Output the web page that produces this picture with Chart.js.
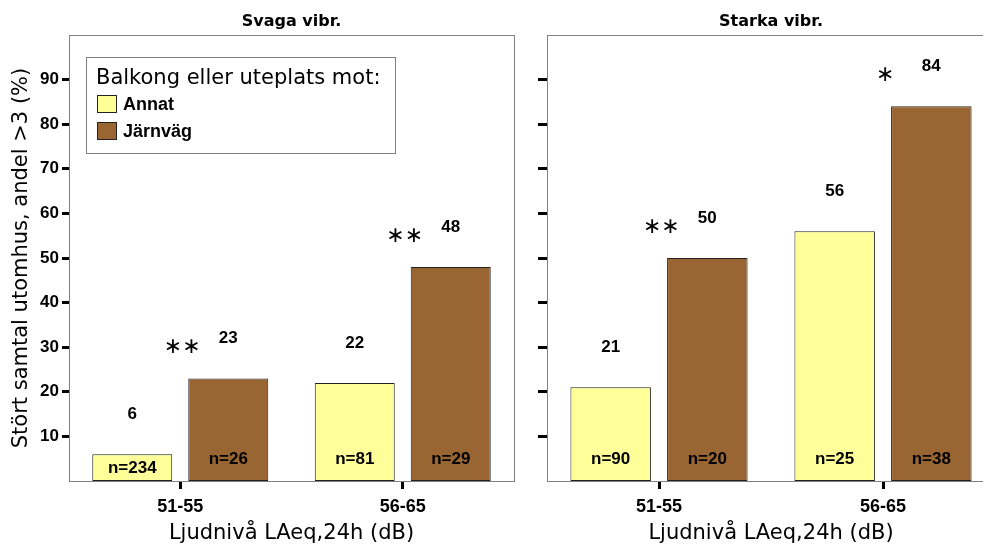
<!DOCTYPE html>
<html lang="sv">
<head>
<meta charset="utf-8">
<title>Stört samtal utomhus</title>
<script src="https://cdn.jsdelivr.net/npm/chart.js@4"></script>
<style>
  html, body { margin: 0; padding: 0; background: #fff; overflow: hidden; }
  body { width: 983px; height: 547px; position: relative; }
  canvas { position: absolute; top: 0; }
  #svagaChart { left: 0; }
  #starkaChart { left: 520px; }
</style>
</head>
<body>
<canvas id="svagaChart" width="520" height="547"></canvas>
<canvas id="starkaChart" width="490" height="547"></canvas>
<script>
const kategorier = ['51-55', '56-65'];
const serier = ['Annat', 'Järnväg'];
const farger = ['#FFFF99', '#996633'];

// Svaga vibrationer
const svagaAnnat = [6, 22];
const svagaJarnvag = [23, 48];
const svagaNAnnat = [234, 81];
const svagaNJarnvag = [26, 29];
const svagaSignif = ['**', '**'];

// Starka vibrationer
const starkaAnnat = [21, 56];
const starkaJarnvag = [50, 84];
const starkaNAnnat = [90, 25];
const starkaNJarnvag = [20, 38];
const starkaSignif = ['**', '*'];

const sans = "'Liberation Sans', Arial, sans-serif";
const bred = "'DejaVu Sans', Verdana, sans-serif";

// Ram runt hela ritytan
const ram = {
    id: 'ram',
    afterDraw(chart) {
        const { ctx, chartArea: a } = chart;
        ctx.save();
        ctx.strokeStyle = '#808080';
        ctx.lineWidth = 1;
        ctx.strokeRect(Math.round(a.left) + 0.5, Math.round(a.top) + 0.5,
            Math.round(a.right - a.left), Math.round(a.bottom - a.top));
        ctx.restore();
    }
};

// Värden ovanför staplarna, n inne i staplarna och signifikansstjärnor
const etiketter = {
    id: 'etiketter',
    afterDatasetsDraw(chart, args, opts) {
        const ctx = chart.ctx;
        const bas = chart.scales.y.getPixelForValue(0);
        ctx.save();
        ctx.textAlign = 'center';
        ctx.textBaseline = 'middle';
        ctx.fillStyle = '#000';
        chart.data.datasets.forEach((ds, i) => {
            chart.getDatasetMeta(i).data.forEach((bar, j) => {
                const y = bar.y - 40;
                ctx.font = `bold 17px ${sans}`;
                ctx.fillText(String(ds.data[j]), bar.x, y);
                ctx.fillText('n=' + opts.antal[i][j], bar.x, Math.max(bar.y + 14, bas - 22));
                if (i === 1) {
                    ctx.font = `22px ${bred}`;
                    ctx.fillText(opts.signif[j].replace(/\*/g, '\u2217'), bar.x - 46, y + 9);
                }
            });
        });
        ctx.restore();
    }
};

// Förklaring i en ruta uppe till vänster
const rutLegend = {
    id: 'rutLegend',
    afterDraw(chart, args, opts) {
        if (!opts.visa) return;
        const { ctx, chartArea } = chart;
        const x = Math.round(chartArea.left) + 17;
        const y = Math.round(chartArea.top) + 22;
        ctx.save();
        ctx.fillStyle = '#fff';
        ctx.fillRect(x, y, 309, 96);
        ctx.strokeStyle = '#808080';
        ctx.lineWidth = 1;
        ctx.strokeRect(x + 0.5, y + 0.5, 309, 96);
        ctx.fillStyle = '#000';
        ctx.textAlign = 'left';
        ctx.textBaseline = 'middle';
        ctx.font = `21px ${bred}`;
        ctx.fillText(opts.rubrik, x + 10, y + 22);
        chart.data.datasets.forEach((ds, i) => {
            const ry = y + 38 + i * 27;
            ctx.fillStyle = ds.backgroundColor;
            ctx.fillRect(x + 11, ry, 20, 18);
            ctx.strokeStyle = '#222';
            ctx.strokeRect(x + 11.5, ry + 0.5, 19, 17);
            ctx.fillStyle = '#000';
            ctx.font = `bold 18px ${sans}`;
            ctx.fillText(ds.label, x + 37, ry + 10);
        });
        ctx.restore();
    }
};

function skapaDiagram(id, titel, annat, jarnvag, nAnnat, nJarnvag, signif, visaY) {
    const ctx = document.getElementById(id).getContext('2d');
    return new Chart(ctx, {
        type: 'bar',
        data: {
            labels: kategorier,
            datasets: [annat, jarnvag].map((varden, i) => ({
                label: serier[i],
                data: varden,
                backgroundColor: farger[i],
                borderColor: '#222',
                borderWidth: 1,
                borderSkipped: false,
                categoryPercentage: 0.863,
                barPercentage: 0.833
            }))
        },
        options: {
            responsive: false,
            animation: false,
            layout: { padding: { left: 0, right: visaY ? 6 : 15, top: 0, bottom: 0 } },
            scales: {
                x: {
                    grid: { offset: false, drawOnChartArea: false, tickLength: 8, tickWidth: 3, tickColor: '#000' },
                    border: { color: '#808080', width: 1 },
                    ticks: { color: '#000', font: { family: sans, size: 18, weight: 'bold' }, padding: 7 },
                    afterFit: s => { s.height = 66; },
                    title: {
                        display: true,
                        text: 'Ljudnivå LAeq,24h (dB)',
                        color: '#000',
                        font: { family: bred, size: 21 },
                        padding: { top: 0, bottom: 1 }
                    }
                },
                y: {
                    min: 0,
                    max: 100,
                    afterBuildTicks: s => { s.ticks = s.ticks.filter(t => t.value > 0 && t.value < 100); },
                    afterFit: s => { s.width = visaY ? 69 : 27; },
                    grid: { drawOnChartArea: false, tickLength: visaY ? 7 : 9, tickWidth: 3, tickColor: '#000' },
                    border: { color: '#808080', width: 1 },
                    ticks: {
                        stepSize: 10,
                        color: '#000',
                        padding: 3,
                        font: { family: sans, size: 17, weight: 'bold' },
                        callback: v => (visaY ? v : '')
                    },
                    title: {
                        display: visaY,
                        text: 'Stört samtal utomhus, andel >3 (%)',
                        color: '#000',
                        font: { family: bred, size: 21 },
                        padding: { top: 9, bottom: 0 }
                    }
                }
            },
            plugins: {
                legend: { display: false },
                tooltip: { enabled: false },
                title: {
                    display: true,
                    text: titel,
                    fullSize: false,
                    color: '#000',
                    font: { family: bred, size: 16, weight: 'bold', lineHeight: 1.2 },
                    padding: { top: 12, bottom: 3.8 }
                },
                etiketter: { antal: [nAnnat, nJarnvag], signif: signif },
                rutLegend: { visa: visaY, rubrik: 'Balkong eller uteplats mot:' }
            }
        },
        plugins: [ram, etiketter, rutLegend]
    });
}

document.addEventListener('DOMContentLoaded', function () {
    skapaDiagram('svagaChart', 'Svaga vibr.', svagaAnnat, svagaJarnvag, svagaNAnnat, svagaNJarnvag, svagaSignif, true);
    skapaDiagram('starkaChart', 'Starka vibr.', starkaAnnat, starkaJarnvag, starkaNAnnat, starkaNJarnvag, starkaSignif, false);
});
</script>
</body>
</html>
